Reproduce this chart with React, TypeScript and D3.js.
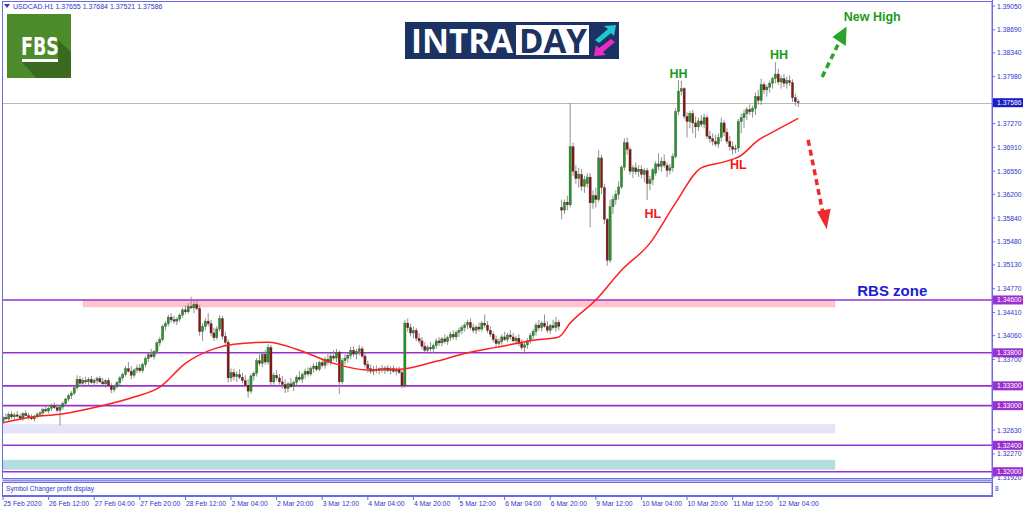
import * as d3 from "d3";

// USDCAD H1 candles, [open, high, low, close] in pips above 1.3000
const candles: [number, number, number, number][] = [
  // 0-9  (25 Feb 20:00)
  [276, 284, 272, 282], [282, 288, 278, 280], [280, 290, 276, 287], [287, 291, 280, 283], [283, 289, 279, 286],
  [286, 292, 282, 284], [284, 288, 278, 281], [281, 290, 277, 288], [288, 293, 284, 285], [285, 289, 279, 282],
  // 10-19
  [282, 287, 278, 280], [280, 286, 276, 284], [284, 290, 281, 287], [287, 292, 283, 289], [289, 297, 286, 294],
  [294, 300, 290, 292], [292, 298, 288, 296], [296, 303, 292, 300], [300, 305, 295, 297], [297, 302, 290, 293],
  // 20-29
  [293, 299, 270, 298], [298, 306, 294, 303], [303, 312, 300, 310], [310, 318, 306, 315], [315, 322, 310, 319],
  [319, 330, 316, 327], [327, 346, 324, 340], [340, 345, 330, 334], [334, 342, 328, 338], [338, 344, 332, 336],
  // 30-39
  [336, 343, 330, 340], [340, 345, 333, 335], [335, 341, 329, 338], [338, 344, 333, 341], [341, 345, 334, 336],
  [336, 342, 330, 333], [333, 340, 327, 338], [338, 342, 328, 330], [330, 334, 319, 324], [324, 332, 320, 329],
  // 40-49
  [329, 337, 326, 335], [335, 345, 331, 342], [342, 350, 338, 347], [347, 360, 344, 356], [356, 366, 350, 352],
  [352, 360, 340, 346], [346, 356, 342, 354], [354, 362, 349, 357], [357, 363, 350, 353], [353, 365, 350, 362],
  // 50-59
  [362, 375, 358, 371], [371, 380, 366, 377], [377, 386, 372, 374], [374, 384, 370, 382], [382, 398, 378, 395],
  [395, 404, 390, 400], [400, 423, 397, 420], [420, 428, 414, 424], [424, 438, 420, 434], [434, 440, 426, 430],
  // 60-69
  [430, 436, 424, 428], [428, 434, 422, 431], [431, 440, 427, 437], [437, 448, 433, 445], [445, 452, 438, 442],
  [442, 455, 439, 450], [450, 465, 446, 448], [448, 458, 440, 453], [453, 460, 444, 447], [447, 452, 406, 412],
  // 70-79
  [412, 425, 398, 420], [420, 432, 414, 428], [428, 440, 420, 424], [424, 430, 405, 410], [410, 418, 398, 403],
  [403, 420, 400, 416], [416, 437, 412, 432], [432, 436, 400, 405], [405, 412, 390, 396], [396, 400, 335, 342],
  // 80-89
  [342, 356, 336, 350], [350, 356, 338, 344], [344, 352, 336, 347], [347, 355, 340, 343], [343, 350, 334, 338],
  [338, 346, 328, 331], [331, 340, 312, 322], [322, 348, 318, 345], [345, 352, 338, 349], [349, 372, 344, 368],
  // 90-99
  [368, 378, 360, 364], [364, 382, 358, 378], [378, 384, 362, 366], [366, 393, 362, 388], [388, 392, 330, 336],
  [336, 350, 330, 346], [346, 354, 338, 342], [342, 348, 332, 336], [336, 345, 326, 332], [332, 340, 319, 326],
  // 100-109
  [326, 336, 320, 333], [333, 342, 327, 329], [329, 338, 322, 335], [335, 346, 331, 343], [343, 352, 337, 340],
  [340, 350, 334, 347], [347, 356, 341, 352], [352, 358, 344, 348], [348, 360, 345, 356], [356, 364, 350, 360],
  // 110-119
  [360, 366, 352, 355], [355, 368, 352, 365], [365, 372, 358, 361], [361, 374, 356, 370], [370, 378, 362, 366],
  [366, 380, 361, 375], [375, 384, 368, 372], [372, 386, 366, 381], [381, 384, 318, 336], [336, 372, 332, 368],
  // 120-129
  [368, 378, 362, 372], [372, 380, 365, 376], [376, 389, 370, 384], [384, 390, 374, 378], [378, 386, 370, 382],
  [382, 392, 376, 386], [386, 390, 372, 375], [375, 380, 358, 362], [362, 368, 350, 356], [356, 362, 348, 352],
  // 130-139
  [352, 360, 346, 355], [355, 361, 349, 353], [353, 358, 347, 356], [356, 362, 350, 354], [354, 360, 348, 357],
  [357, 362, 351, 353], [353, 360, 347, 356], [356, 361, 350, 352], [352, 358, 346, 355], [355, 359, 348, 350],
  // 140-149
  [350, 354, 326, 330], [330, 430, 327, 425], [425, 432, 412, 418], [418, 424, 405, 410], [410, 420, 402, 414],
  [414, 418, 398, 402], [402, 410, 394, 398], [398, 404, 385, 390], [390, 396, 380, 384], [384, 392, 379, 388],
  // 150-159
  [388, 396, 382, 386], [386, 394, 380, 391], [391, 402, 386, 398], [398, 404, 390, 395], [395, 404, 390, 401],
  [401, 408, 394, 397], [397, 406, 392, 403], [403, 412, 398, 408], [408, 414, 400, 404], [404, 414, 399, 411],
  // 160-169
  [411, 418, 404, 414], [414, 422, 408, 418], [418, 426, 412, 422], [422, 430, 416, 426], [426, 432, 415, 418],
  [418, 424, 410, 414], [414, 422, 408, 419], [419, 426, 412, 416], [416, 428, 412, 425], [425, 438, 418, 422],
  // 170-179
  [422, 428, 410, 414], [414, 420, 404, 408], [408, 412, 396, 400], [400, 406, 388, 394], [394, 402, 388, 397],
  [397, 408, 392, 404], [404, 412, 398, 400], [400, 410, 396, 407], [407, 414, 400, 404], [404, 410, 396, 398],
  // 180-189
  [398, 406, 392, 402], [402, 408, 390, 394], [394, 400, 384, 388], [388, 396, 379, 392], [392, 402, 386, 398],
  [398, 410, 394, 406], [406, 416, 400, 412], [412, 426, 406, 422], [422, 430, 414, 418], [418, 428, 412, 425],
  // 190-199  (9 Mar opens at 196)
  [425, 438, 418, 420], [420, 428, 410, 414], [414, 424, 408, 421], [421, 430, 415, 418], [418, 434, 412, 426],
  [426, 430, 414, 420], [600, 612, 582, 596], [596, 612, 590, 608], [608, 618, 596, 604], [604, 758, 600, 692],
  // 200-209
  [692, 698, 648, 655], [655, 664, 636, 644], [644, 660, 630, 650], [650, 658, 625, 632], [632, 648, 622, 642],
  [636, 652, 630, 646], [646, 652, 570, 607], [607, 626, 598, 618], [618, 630, 600, 612], [612, 687, 608, 675],
  // 210-219
  [675, 680, 620, 630], [630, 636, 575, 582], [582, 584, 512, 520], [520, 612, 516, 601], [601, 618, 590, 612],
  [612, 626, 604, 620], [620, 640, 612, 631], [631, 664, 628, 661], [661, 705, 656, 698], [698, 706, 680, 688],
  // 220-229
  [688, 692, 650, 655], [655, 664, 645, 660], [660, 668, 650, 654], [654, 664, 646, 658], [658, 664, 644, 650],
  [650, 660, 638, 656], [656, 660, 611, 636], [636, 648, 626, 642], [642, 660, 634, 657], [652, 670, 648, 666],
  // 230-239
  [666, 682, 656, 662], [662, 676, 654, 670], [670, 680, 660, 664], [664, 668, 646, 656], [656, 666, 650, 660],
  [660, 682, 654, 677], [677, 750, 674, 745], [745, 793, 740, 776], [776, 792, 770, 780], [780, 782, 734, 738],
  // 240-249
  [738, 744, 706, 730], [730, 746, 720, 742], [742, 748, 712, 728], [728, 738, 705, 722], [722, 736, 716, 731],
  [731, 740, 722, 726], [726, 742, 720, 736], [736, 740, 704, 708], [708, 716, 698, 704], [704, 712, 694, 700],
  // 250-259
  [700, 710, 692, 696], [696, 712, 690, 706], [706, 736, 700, 728], [728, 732, 708, 714], [714, 720, 696, 700],
  [700, 708, 686, 692], [692, 700, 680, 688], [688, 695, 682, 690], [690, 734, 684, 730], [730, 742, 712, 736],
  // 260-269
  [736, 748, 720, 742], [742, 752, 732, 748], [748, 756, 740, 745], [745, 754, 736, 750], [750, 774, 740, 768],
  [768, 778, 756, 762], [762, 795, 755, 786], [786, 790, 772, 778], [778, 786, 768, 782], [782, 792, 774, 788],
  // 270-279
  [788, 798, 780, 795], [795, 820, 788, 802], [802, 810, 786, 790], [790, 800, 780, 795], [795, 802, 782, 788],
  [788, 798, 780, 792], [792, 800, 784, 789], [789, 794, 760, 766], [766, 772, 754, 760], [760, 764, 752, 758.6],
];

// moving average: bar index and value in pips
const maIdx = [0, 10, 20, 34, 46, 55, 64, 74, 81, 93, 104, 116, 128, 139, 151, 163, 174, 186, 195, 199, 208, 217, 227, 236, 245, 253, 259, 265, 270, 279];
const maVal = [274, 283, 287, 299, 313, 328, 364, 386, 393, 396, 384, 364, 354, 355, 366, 380, 389, 399, 404, 425, 460, 505, 546, 607, 660, 669, 679, 702, 714, 735];

const priceTicks = [1.3905, 1.3869, 1.3834, 1.3798, 1.3762, 1.3727, 1.3691, 1.3655, 1.362, 1.3584, 1.3548, 1.3513, 1.3477, 1.3441, 1.3406, 1.337, 1.3335, 1.3299, 1.3263, 1.3227, 1.3192];
const levels = [1.346, 1.338, 1.333, 1.33, 1.324, 1.32];
const lastPrice = 1.37586;

const timeIdx = [0, 16, 32, 48, 64, 80, 96, 112, 128, 144, 160, 176, 192, 208, 224, 240, 256, 272];
const timeLabels = ["25 Feb 2020", "26 Feb 12:00", "27 Feb 04:00", "27 Feb 20:00", "28 Feb 12:00", "2 Mar 04:00", "2 Mar 20:00", "3 Mar 12:00", "4 Mar 04:00", "4 Mar 20:00", "5 Mar 12:00", "6 Mar 04:00", "6 Mar 20:00", "9 Mar 12:00", "10 Mar 04:00", "10 Mar 20:00", "11 Mar 12:00", "12 Mar 04:00"];

// zones: [from bar, to bar, top price, bottom price]
const zones: [number, number, number, number][] = [
  [28, 292, 1.346, 1.3449],
  [0, 292, 1.3272, 1.3258],
  [0, 292, 1.3218, 1.3203],
];
const zoneColors = ["#ffc4cc", "#e4e4f8", "#b4dfe0"];

const W = 1024;
const H = 511;
const AXIS_BLUE = "#6a6ae6";
const TEXT_BLUE = "#3434c8";
const LEVEL = "#9b30d0";
const FONT = "Liberation Sans, Arial, sans-serif";

export default function App() {
  const x = d3.scaleLinear().domain([0, 347]).range([3, 992]);
  const y = d3.scaleLinear().domain([1.3192, 1.3905]).range([477, 6]);
  const p = (pips: number) => 1.3 + pips / 10000;

  const maLine = d3
    .line<number>()
    .x((_, i) => x(maIdx[i]))
    .y((d) => y(p(d)))
    .curve(d3.curveMonotoneX);

  const plotRight = x(347);
  const boxed = [...levels, lastPrice];
  // tick labels that sit under a price box are covered, as in the terminal
  const covered = (t: number) => boxed.some((b) => Math.abs(y(b) - y(t)) < 5);

  return (
    <svg width={W} height={H} style={{ position: "absolute", left: 0, top: 0, background: "#fff" }} fontFamily={FONT}>
      <defs>
        <clipPath id="plot">
          <rect x={3} y={2} width={plotRight - 3} height={476} />
        </clipPath>
      </defs>

      {/* zones */}
      {zones.map((z, i) => (
        <rect key={i} x={x(z[0])} y={y(z[2])} width={x(z[1]) - x(z[0])} height={y(z[3]) - y(z[2])} fill={zoneColors[i]} />
      ))}

      {/* last price line */}
      <line x1={3} x2={plotRight} y1={Math.round(y(lastPrice)) + 0.5} y2={Math.round(y(lastPrice)) + 0.5} stroke="#b8b8b8" />

      {/* levels */}
      {levels.map((l) => (
        <line key={l} x1={3} x2={plotRight} y1={y(l)} y2={y(l)} stroke={LEVEL} strokeWidth={1.6} />
      ))}

      {/* candles */}
      <g clipPath="url(#plot)">
        {candles.map(([o, h, l, c], i) => {
          const cx = x(i);
          const top = y(p(Math.max(o, c)));
          const bot = y(p(Math.min(o, c)));
          const bull = c >= o;
          return (
            <g key={i}>
              <line x1={cx} x2={cx} y1={y(p(h))} y2={y(p(l))} stroke="#858585" strokeWidth={0.9} />
              <rect x={cx - 1.1} y={top} width={2.2} height={Math.max(0.8, bot - top)} fill={bull ? "#1f9a1f" : "#8a1212"} stroke="#404040" strokeWidth={0.35} />
            </g>
          );
        })}
        <path d={maLine(maVal) ?? ""} fill="none" stroke="#ff1f1f" strokeWidth={1.5} />
      </g>

      {/* frames */}
      <rect x={2.5} y={1.5} width={plotRight - 2.5} height={477} fill="none" stroke={AXIS_BLUE} />
      <rect x={2.5} y={479.5} width={plotRight - 2.5} height={2} fill="#8c8cea" />
      <rect x={2.5} y={482.5} width={plotRight - 2.5} height={13} fill="none" stroke={AXIS_BLUE} />
      <line x1={plotRight + 0.5} x2={plotRight + 0.5} y1={0} y2={497} stroke={AXIS_BLUE} />
      <line x1={2} x2={plotRight} y1={496.5} y2={496.5} stroke={AXIS_BLUE} />
      <text x={6} y={491} fontSize={6.6} fill={TEXT_BLUE}>Symbol Changer profit display</text>
      <text x={995} y={491} fontSize={6.5} fill={TEXT_BLUE}>8</text>

      {/* price axis */}
      {priceTicks.map((t) => (
        <g key={t}>
          <line x1={plotRight} x2={plotRight + 3} y1={y(t)} y2={y(t)} stroke={AXIS_BLUE} />
          {!covered(t) && (
            <text x={997} y={y(t) + 2.5} fontSize={6.8} fill={TEXT_BLUE}>{t.toFixed(5)}</text>
          )}
        </g>
      ))}
      {levels.map((l) => (
        <g key={l}>
          <rect x={993} y={y(l) - 4.5} width={30} height={9} fill={LEVEL} />
          <text x={997} y={y(l) + 2.5} fontSize={6.8} fill="#fff">{l.toFixed(5)}</text>
        </g>
      ))}
      <rect x={993} y={y(lastPrice) - 4.5} width={30} height={9} fill="#1c1cc4" />
      <text x={997} y={y(lastPrice) + 2.5} fontSize={6.8} fill="#fff">{lastPrice.toFixed(5)}</text>

      {/* time axis */}
      {timeIdx.map((t, i) => (
        <g key={t}>
          <line x1={x(t)} x2={x(t)} y1={496} y2={500} stroke={AXIS_BLUE} />
          <text x={x(t) + 0.5} y={506} fontSize={6.8} fill={TEXT_BLUE}>{timeLabels[i]}</text>
        </g>
      ))}

      {/* header */}
      <path d="M4,4 L10,4 L7,8 Z" fill={TEXT_BLUE} />
      <text x={13} y={9} fontSize={7} fill={TEXT_BLUE}>USDCAD.H1  1.37655 1.37684 1.37521 1.37586</text>

      {/* FBS logo */}
      <g>
        <rect x={7} y={14} width={64} height={64} fill="#4d8a2c" />
        <path d="M22,62 L58,62 L58,40 L71,52 L71,78 L36,78 Z" fill="#3a6a1f" />
        <text x={40} y={55} fontSize={25} fontWeight="bold" fill="#fff" textAnchor="middle" fontFamily="DejaVu Sans, sans-serif" textLength={38} lengthAdjust="spacingAndGlyphs">FBS</text>
        <rect x={22} y={59} width={36} height={3} fill="#fff" />
      </g>

      {/* INTRADAY logo */}
      <g>
        <rect x={405} y={22} width={214} height={37} fill="#1b3263" />
        <text x={411} y={53} fontSize={34} fontWeight="bold" fill="#fff" fontFamily="Open Sans, sans-serif" textLength={102} lengthAdjust="spacingAndGlyphs">INTRA</text>
        <rect x={516} y={25} width={73} height={30} fill="#fff" />
        <text x={519} y={53} fontSize={34} fontWeight="bold" fill="#1b3263" fontFamily="Open Sans, sans-serif" textLength={68} lengthAdjust="spacingAndGlyphs">DAY</text>
        <path d="M595,40 L608,29 L604,26 L616,25 L614,36 L611,33 L599,43 Z" fill="#1fc7d4" />
        <path d="M615,42 L603,52 L606,55 L594,56 L596,45 L599,48 L611,39 Z" fill="#ea2bc8" />
      </g>

      {/* annotations */}
      <g fontFamily="Liberation Sans, Arial, sans-serif" fontWeight="bold" textAnchor="middle">
        <text x={x(237)} y={y(1.3796)} fontSize={12.5} fill="#1c9a1c">HH</text>
        <text x={x(272.3)} y={y(1.38248)} fontSize={12.5} fill="#1c9a1c">HH</text>
        <text x={x(228)} y={y(1.35841)} fontSize={12.5} fill="#f01818">HL</text>
        <text x={x(258)} y={y(1.36583)} fontSize={12.5} fill="#f01818">HL</text>
        <text x={x(305)} y={y(1.38823)} fontSize={12.5} fill="#1c9a1c">New High</text>
        <text x={x(312)} y={y(1.3466)} fontSize={15} fill="#1c1cd4">RBS zone</text>
      </g>
      <line x1={x(287.4)} y1={y(1.37975)} x2={x(294.2)} y2={y(1.38575)} stroke="#2aa52a" strokeWidth={3.5} strokeDasharray="6,4" />
      <path d={`M${x(296)},${y(1.3874)} L${x(291)},${y(1.3858)} L${x(295.7)},${y(1.38445)} Z`} fill="#2aa52a" />
      <line x1={x(282.5)} y1={y(1.37022)} x2={x(287.6)} y2={y(1.3593)} stroke="#f02a2a" strokeWidth={3.5} strokeDasharray="6,4" />
      <path d={`M${x(289)},${y(1.3567)} L${x(285.6)},${y(1.3594)} L${x(290.4)},${y(1.3598)} Z`} fill="#f02a2a" />
    </svg>
  );
}
